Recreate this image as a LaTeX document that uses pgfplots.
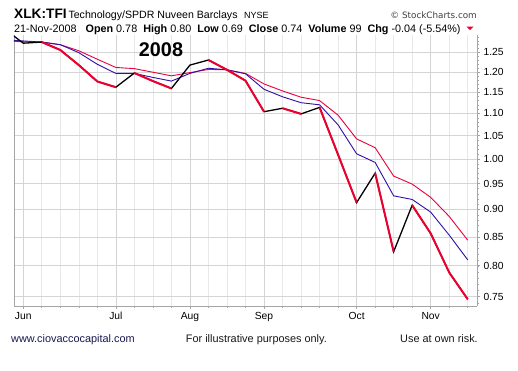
\documentclass[border=0pt]{standalone}
\usepackage{pgfplots}
\pgfplotsset{compat=1.18}
\usepackage{pgfplotstable}
\usepackage{fontspec}
\setmainfont{Liberation Sans}
\newfontfamily\dejavu{DejaVu Sans}
\definecolor{pricered}{RGB}{236,0,48}
\definecolor{mared}{RGB}{232,0,64}
\definecolor{mablue}{RGB}{48,16,168}
\definecolor{gridm}{RGB}{212,212,212}
\definecolor{gridw}{RGB}{232,232,232}
\definecolor{axc}{RGB}{165,165,165}
\definecolor{urlc}{RGB}{25,25,80}

\pgfplotstableread{
i v
-1 1.312
0 1.274
1 1.277
2 1.256
3 1.217
4 1.176
5 1.162
6 1.197
7 1.177
8 1.159
9 1.217
10 1.230
11 1.205
12 1.178
13 1.104
14 1.112
15 1.099
16 1.114
17 1.009
18 0.913
19 0.971
20 0.824
21 0.908
22 0.856
23 0.789
24 0.746
}\price

\pgfplotstableread{
i v
1 1.277
2 1.256
3 1.217
4 1.176
5 1.162
5.5 nan
6 1.197
7 1.177
8 1.159
8.5 nan
10 1.230
11 1.205
12 1.178
13 1.104
13.5 nan
14 1.112
15 1.099
15.5 nan
16 1.114
17 1.009
18 0.913
18.5 nan
19 0.971
20 0.824
20.5 nan
21 0.908
22 0.856
23 0.789
24 0.746
}\down

\pgfplotstableread{
i v
-1 1.279
0 1.278
1 1.277
2 1.270
3 1.254
4 1.232
5 1.211
6 1.208
7 1.199
8 1.190
9 1.198
10 1.206
11 1.205
12 1.196
13 1.170
14 1.153
15 1.138
16 1.130
17 1.096
18 1.043
19 1.024
20 0.965
21 0.949
22 0.923
23 0.887
24 0.844
}\maupper

\pgfplotstableread{
i v
-1 1.283
0 1.280
1 1.277
2 1.270
3 1.249
4 1.219
5 1.196
6 1.196
7 1.186
8 1.177
9 1.196
10 1.209
11 1.205
12 1.195
13 1.157
14 1.139
15 1.125
16 1.120
17 1.074
18 1.011
19 0.993
20 0.926
21 0.919
22 0.895
23 0.853
24 0.810
}\mablue

\begin{document}
\begin{tikzpicture}[x=1pt,y=1pt]
\fill[white] (0,0) rectangle (518,371);
\begin{axis}[
  at={(14pt,65pt)}, anchor=south west,
  scale only axis, width=463pt, height=271pt,
  xmin=-0.5, xmax=24.5,
  ymode=log, ymin=0.7356, ymax=1.296,
  axis x line*=bottom, axis y line*=right,
  axis line style={-, draw=axc, line width=0.8pt},
  xtick={0,5,9,13,18,22},
  xticklabels={Jun,Jul,Aug,Sep,Oct,Nov},
  minor xtick={0,...,24},
  ytick={0.75,0.8,0.85,0.9,0.95,1.0,1.05,1.1,1.15,1.2,1.25},
  yticklabels={0.75,0.80,0.85,0.90,0.95,1.00,1.05,1.10,1.15,1.20,1.25},
  minor ytick={0.74,0.75,...,1.29},
  tick align=outside,
  major tick length=3pt, minor tick length=2pt,
  tick style={draw=axc, line width=0.6pt},
  xmajorgrids=true, xminorgrids=true, ymajorgrids=true,
  major grid style={draw=gridm, line width=0.6pt},
  minor grid style={draw=gridw, line width=0.6pt},
  xticklabel style={font=\fontsize{10.3}{12}\selectfont, text=black},
  yticklabel style={font=\fontsize{10.3}{12}\selectfont, text=black},
  unbounded coords=jump,
  clip mode=individual,
]
\draw[axc, line width=0.8pt] (rel axis cs:0,0) -- (rel axis cs:0,1);
\addplot[mared, line width=0.9pt] table[x=i, y=v] {\maupper};
\addplot[mablue, line width=0.9pt] table[x=i, y=v] {\mablue};
\addplot[black, line width=1.3pt] table[x=i, y=v] {\price};
\addplot[pricered, line width=2pt] table[x=i, y=v] {\down};
\end{axis}

% header row 1
\node[anchor=base west, inner sep=0, font=\fontsize{13.7}{15}\selectfont\bfseries] at (14,352.7) {XLK:TFI};
\node[anchor=base west, inner sep=0, font=\fontsize{10.6}{12}\selectfont] at (68.3,352.7) {Technology/SPDR Nuveen Barclays};
\node[anchor=base west, inner sep=0, font=\fontsize{9}{10}\selectfont] at (244,352.7) {NYSE};
\node[anchor=base east, inner sep=0, font=\dejavu\fontsize{8.8}{10}\selectfont, text=black!75] at (477,352.7) {© StockCharts.com};

% header row 2
\node[anchor=base west, inner sep=0, font=\fontsize{10.8}{12}\selectfont] at (14,338.7)
  {21-Nov-2008\ \ \ \textbf{Open} 0.78\ \ \textbf{High} 0.80\ \ \textbf{Low} 0.69\ \ \textbf{Close} 0.74\ \ \textbf{Volume} 99\ \ \textbf{Chg} -0.04 (-5.54\%)};
\fill[pricered] (466.5,344.3) -- (473.5,344.3) -- (470,340.8) -- cycle;

% year label
\node[font=\fontsize{19.8}{21}\selectfont\bfseries] at (161,321.3) {2008};

% footer
\node[anchor=base west, inner sep=0, font=\fontsize{10.9}{12}\selectfont, text=urlc] at (11,28.7) {www.ciovaccocapital.com};
\node[anchor=base west, inner sep=0, font=\fontsize{10.9}{12}\selectfont, text=black!90] at (185.7,28.7) {For illustrative purposes only.};
\node[anchor=base west, inner sep=0, font=\fontsize{10.9}{12}\selectfont, text=black!90] at (400,28.7) {Use at own risk.};
\end{tikzpicture}
\end{document}
